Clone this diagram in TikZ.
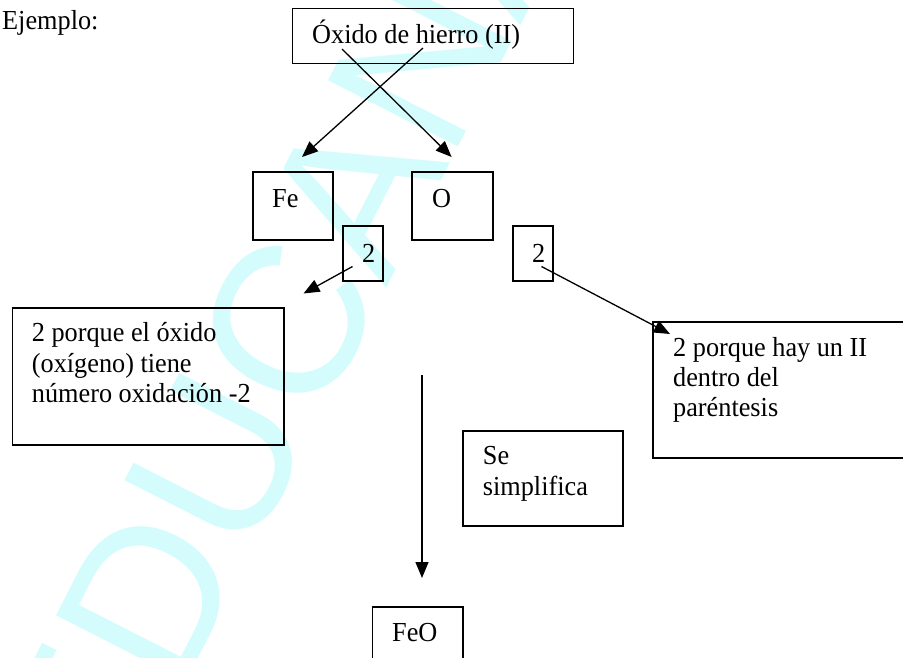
\documentclass[tikz,border=0pt]{standalone}
\usepackage{fontspec}
\setmainfont{Liberation Serif}[FakeStretch=0.955]
\newfontfamily\wmfont{Liberation Sans}
\usetikzlibrary{arrows.meta,calc}
\definecolor{wmcyan}{RGB}{212,252,253}
\begin{document}
\begin{tikzpicture}[x=1pt,y=-1pt,
  box/.style={draw=black, line width=1.8pt, inner sep=0pt},
  lbl/.style={anchor=base west, inner sep=0pt, font=\fontsize{27.5}{30.5}\selectfont},
  arr/.style={line width=1.3pt, -{Triangle[length=16pt,width=13pt]}}]
\useasboundingbox (0,0) rectangle (903,657);
\begin{scope}
\clip (0,0) rectangle (903,657);
\node[rotate=63, anchor=base west, inner sep=0pt, text=wmcyan,
      font=\wmfont\fontsize{212}{212}\selectfont] (wm) at (114,824) {EDUCANA};

% boxes
\node[box, minimum width=281pt, minimum height=55pt, anchor=north west] (top) at (291.5,7.5) {};
\node[box, minimum width=80pt, minimum height=68pt, anchor=north west] (fe) at (252,171) {};
\node[box, minimum width=81pt, minimum height=68pt, anchor=north west] (ox) at (411,171) {};
\node[box, minimum width=40pt, minimum height=55pt, anchor=north west] (twoL) at (342,225) {};
\node[box, minimum width=40pt, minimum height=55pt, anchor=north west] (twoR) at (512,225) {};
\node[box, minimum width=271.5pt, minimum height=136.7pt, anchor=north west] (left) at (11.5,307.3) {};
\node[box, minimum width=270pt, minimum height=136.6pt, anchor=north west] (right) at (652,320.7) {};
\node[box, minimum width=160pt, minimum height=95.3pt, anchor=north west] (se) at (462,429.7) {};
\node[box, minimum width=90.5pt, minimum height=70pt, anchor=north west] (feo) at (371.5,606) {};

% texts
\node[lbl] (ej) at (2,29.3) {Ejemplo:};
\node[lbl] (topt) at (312,43.5) {Óxido de hierro (II)};
\node[lbl] (fet) at (272,207) {Fe};
\node[lbl] (oxt) at (432,207) {O};
\node[lbl] (twoLt) at (362,262) {2};
\node[lbl] (twoRt) at (532,262) {2};
\node[lbl] (leftt) at (31.7,341.7) {\parbox[t]{260pt}{\raggedright 2 porque el óxido\\(oxígeno) tiene\\número oxidación -2}};
\node[lbl] (rightt) at (673,356) {\parbox[t]{240pt}{\raggedright\baselineskip=30pt 2 porque hay un II\\dentro del\\paréntesis}};
\node[lbl] (set) at (482.7,464) {\parbox[t]{130pt}{\raggedright\baselineskip=31pt Se\\simplifica}};
\node[lbl] (feot) at (392,641.7) {FeO};

% arrow end points
\coordinate (a1s) at (342,49);
\coordinate (a1e) at (451.6,157);
\coordinate (a2s) at (423,48);
\coordinate (a2e) at (302,157);
\coordinate (a3s) at (352.5,266.5);
\coordinate (a3e) at (303.5,293.5);
\coordinate (a4s) at (541.5,266.5);
\coordinate (a4e) at (670,334);
\coordinate (a5s) at (422,375);
\coordinate (a5e) at (422,578);

\draw[arr] (a1s) -- (a1e);
\draw[arr] (a2s) -- (a2e);
\draw[arr] (a3s) -- (a3e);
\draw[arr] (a4s) -- (a4e);
\draw[arr] (a5s) -- (a5e);
\end{scope}
\end{tikzpicture}
\end{document}
